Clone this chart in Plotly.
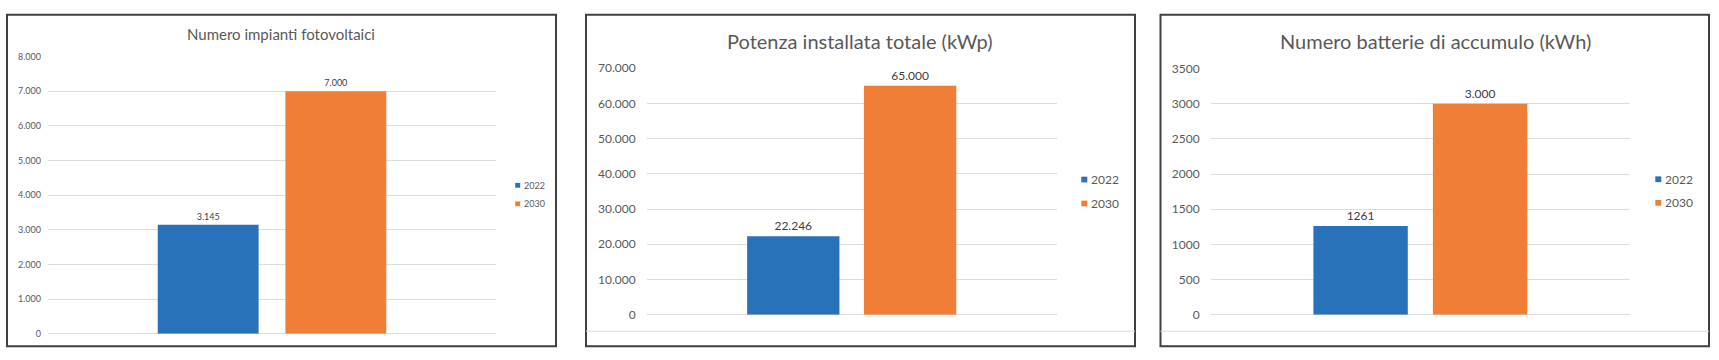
import plotly.graph_objects as go

W, H = 1719, 360

# ---- data ----
category = ["Totale"]
series_names = ["2022", "2030"]
colors = ["#2971B8", "#F07E37"]

titles = ["Numero impianti fotovoltaici",
          "Potenza installata totale (kWp)",
          "Numero batterie di accumulo (kWh)"]

impianti_values = [3145, 7000]
impianti_labels = ["3.145", "7.000"]

potenza_values = [22246, 65000]
potenza_labels = ["22.246", "65.000"]

batterie_values = [1261, 3000]
batterie_labels = ["1261", "3.000"]

y_ranges = [[0, 8000], [0, 70000], [0, 3500]]
y_dticks = [1000, 10000, 500]
y_formats = [",d", ",d", "d"]

panels_values = [impianti_values, potenza_values, batterie_values]
panels_labels = [impianti_labels, potenza_labels, batterie_labels]

# ---- layout geometry (pixels) ----
x_dom_px = [(48, 496), (646.7, 1056.7), (1210.7, 1630)]
y_dom_px = [(340, 50.7), (320, 62.7), (320, 63.3)]   # (bottom, top)
borders = [(7, 556), (586, 1135), (1160.5, 1709)]
title_pos = [(281, 27), (860, 34), (1435, 34)]
title_size = [15, 20, 20]
tick_size = [9, 12, 12]
label_size = [9, 12, 12]
standoff = [6, 10, 10]
legend_pos = [(517.7, 185, 204.3, 5, 9), (1084.3, 179, 204, 6, 12), (1658.3, 178.7, 203.3, 6, 12)]

FONT = "Lato, 'Open Sans', sans-serif"


def px(x):
    return x / W


def py(y):
    return (H - y) / H


fig = go.Figure()
shapes = []
annotations = []

for i in range(3):
    n = "" if i == 0 else str(i + 1)
    for j, name in enumerate(series_names):
        fig.add_trace(go.Bar(
            x=category, y=[panels_values[i][j]], name=name,
            marker=dict(color=colors[j], line=dict(width=0)),
            text=[panels_labels[i][j]], textposition="outside",
            textfont=dict(family=FONT, size=label_size[i], color="#404040"),
            cliponaxis=False, showlegend=False, hoverinfo="skip",
            xaxis="x" + n, yaxis="y" + n,
        ))
    fig.update_layout(**{
        "xaxis" + n: dict(domain=[px(x_dom_px[i][0]), px(x_dom_px[i][1])],
                          anchor="y" + n, showticklabels=False, showgrid=False,
                          zeroline=False, showline=False, fixedrange=True),
        "yaxis" + n: dict(domain=[py(y_dom_px[i][0]), py(y_dom_px[i][1])],
                          anchor="x" + n, range=[y_ranges[i][0], y_ranges[i][1] * 1.0002],
                          dtick=y_dticks[i], tick0=0, tickformat=y_formats[i],
                          showgrid=True, gridcolor="#DCDCDC", gridwidth=1,
                          zeroline=True, zerolinecolor="#DCDCDC", zerolinewidth=1,
                          showline=False, ticks="", ticklabelstandoff=standoff[i],
                          tickfont=dict(family=FONT, size=tick_size[i], color="#595959"),
                          fixedrange=True),
    })

    # panel border
    bx0, bx1 = borders[i]
    shapes.append(dict(type="rect", xref="paper", yref="paper",
                       x0=px(bx0), x1=px(bx1), y0=py(353), y1=py(7),
                       line=dict(color="#404040", width=2), fillcolor="rgba(0,0,0,0)", layer="above"))
    if i > 0:
        shapes.append(dict(type="line", xref="paper", yref="paper",
                           x0=px(bx0), x1=px(bx1), y0=py(337.3), y1=py(337.3),
                           line=dict(color="#D9D9D9", width=1)))

    # title
    tx, ty = title_pos[i]
    annotations.append(dict(text=titles[i], xref="paper", yref="paper",
                            x=px(tx), y=py(ty), xanchor="center", yanchor="middle",
                            showarrow=False,
                            font=dict(family=FONT, size=title_size[i], color="#595959")))

    # legend
    lx, ly1, ly2, sq, fs = legend_pos[i]
    for j, ly in enumerate([ly1, ly2]):
        shapes.append(dict(type="rect", xref="paper", yref="paper",
                           x0=px(lx - sq / 2), x1=px(lx + sq / 2),
                           y0=py(ly + sq / 2), y1=py(ly - sq / 2),
                           line=dict(width=0), fillcolor=colors[j]))
        annotations.append(dict(text=series_names[j], xref="paper", yref="paper",
                                x=px(lx + sq / 2 + 1.5), y=py(ly), xanchor="left", yanchor="middle",
                                showarrow=False,
                                font=dict(family=FONT, size=fs, color="#595959")))

fig.update_layout(
    width=W, height=H, autosize=False,
    margin=dict(l=0, r=0, t=0, b=0),
    paper_bgcolor="white", plot_bgcolor="white",
    barmode="group", bargap=0.43, bargroupgap=0.21,
    separators=",.",
    font=dict(family=FONT, color="#595959"),
    shapes=shapes, annotations=annotations,
)

fig.write_html("out.html", config={"displayModeBar": False},
               post_script="document.body.style.margin='0';document.body.style.overflow='hidden';")
